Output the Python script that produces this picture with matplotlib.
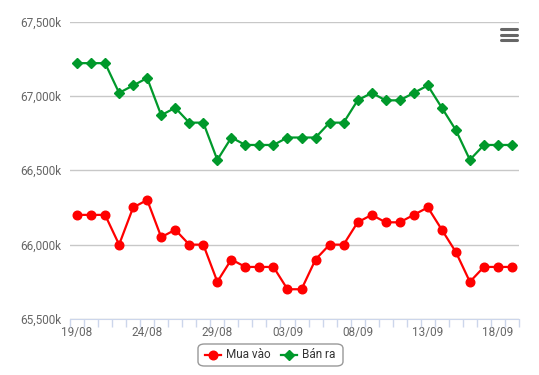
import matplotlib.pyplot as plt
from matplotlib.patches import FancyBboxPatch
from matplotlib.lines import Line2D

plt.rcParams['font.family'] = ['Roboto', 'DejaVu Sans']

dates = ['19/08', '20/08', '21/08', '22/08', '23/08', '24/08', '25/08', '26/08',
         '27/08', '28/08', '29/08', '30/08', '31/08', '01/09', '02/09', '03/09',
         '04/09', '05/09', '06/09', '07/09', '08/09', '09/09', '10/09', '11/09',
         '12/09', '13/09', '14/09', '15/09', '16/09', '17/09', '18/09', '19/09']

mua_vao = [66200, 66200, 66200, 66000, 66250, 66300, 66050, 66100,
           66000, 66000, 65750, 65900, 65850, 65850, 65850, 65700,
           65700, 65900, 66000, 66000, 66150, 66200, 66150, 66150,
           66200, 66250, 66100, 65950, 65750, 65850, 65850, 65850]

ban_ra = [67220, 67220, 67220, 67020, 67070, 67120, 66870, 66920,
          66820, 66820, 66570, 66720, 66670, 66670, 66670, 66720,
          66720, 66720, 66820, 66820, 66970, 67020, 66970, 66970,
          67020, 67070, 66920, 66770, 66570, 66670, 66670, 66670]

y_ticks = [65500, 66000, 66500, 67000, 67500]

W, H = 539, 375
fig = plt.figure(figsize=(W / 100, H / 100), dpi=100)
ax = fig.add_axes([70 / W, 1 - 319 / H, 449 / W, (319 - 21.5) / H])

x = list(range(len(dates)))
ax.plot(x, mua_vao, color='#ff0000', lw=1.6, marker='o', markersize=6.2,
        label='Mua vào', zorder=3, clip_on=False)
ax.plot(x, ban_ra, color='#00992b', lw=1.6, marker='D', markersize=4.6,
        label='Bán ra', zorder=3, clip_on=False)

ax.set_xlim(-0.5, len(dates) - 0.5)
ax.set_ylim(65500, 67500)
ax.set_yticks(y_ticks)
ax.set_yticklabels([f'{v:,}k' for v in y_ticks])
ax.yaxis.grid(True, color='#c8c8c8', lw=1)
ax.set_axisbelow(True)

ax.set_xticks(x[::5])
ax.set_xticklabels(dates[::5])
ax.set_xticks([i + 0.5 for i in range(-1, len(dates))], minor=True)
ax.tick_params(axis='x', which='major', length=0, pad=5, labelsize=8.5, colors='#666666')
ax.tick_params(axis='x', which='minor', length=6, color='#ccd6eb', width=1)
ax.tick_params(axis='y', length=0, pad=6, labelsize=8.5, colors='#666666')

for s in ['top', 'right', 'left']:
    ax.spines[s].set_visible(False)
ax.spines['bottom'].set_color('#ccd6eb')

# legend box
box = FancyBboxPatch((198 / W, 1 - 366 / H), 145 / W, 22 / H,
                     boxstyle='round,pad=0,rounding_size=0.012',
                     transform=fig.transFigure, fc='white', ec='#999999', lw=1)
fig.patches.append(box)
fig.add_artist(Line2D([205 / W, 221 / W], [1 - 355 / H] * 2, color='#ff0000', lw=1.6,
                      marker='o', markersize=6.2, markevery=[], transform=fig.transFigure))
fig.add_artist(Line2D([213 / W], [1 - 355 / H], color='#ff0000', marker='o',
                      markersize=6.2, transform=fig.transFigure))
fig.text(226 / W, 1 - 355 / H, 'Mua vào', fontsize=8.5, color='#333333', va='center')
fig.add_artist(Line2D([281 / W, 297 / W], [1 - 355 / H] * 2, color='#00992b', lw=1.6,
                      transform=fig.transFigure))
fig.add_artist(Line2D([289 / W], [1 - 355 / H], color='#00992b', marker='D',
                      markersize=4.6, transform=fig.transFigure))
fig.text(302 / W, 1 - 355 / H, 'Bán ra', fontsize=8.5, color='#333333', va='center')

# menu icon
for yy in [29, 34.5, 40]:
    fig.add_artist(Line2D([501 / W, 517 / W], [1 - yy / H] * 2, color='#666666',
                          lw=2.2, solid_capstyle='round', transform=fig.transFigure))

fig.savefig('out.png', dpi=100)
